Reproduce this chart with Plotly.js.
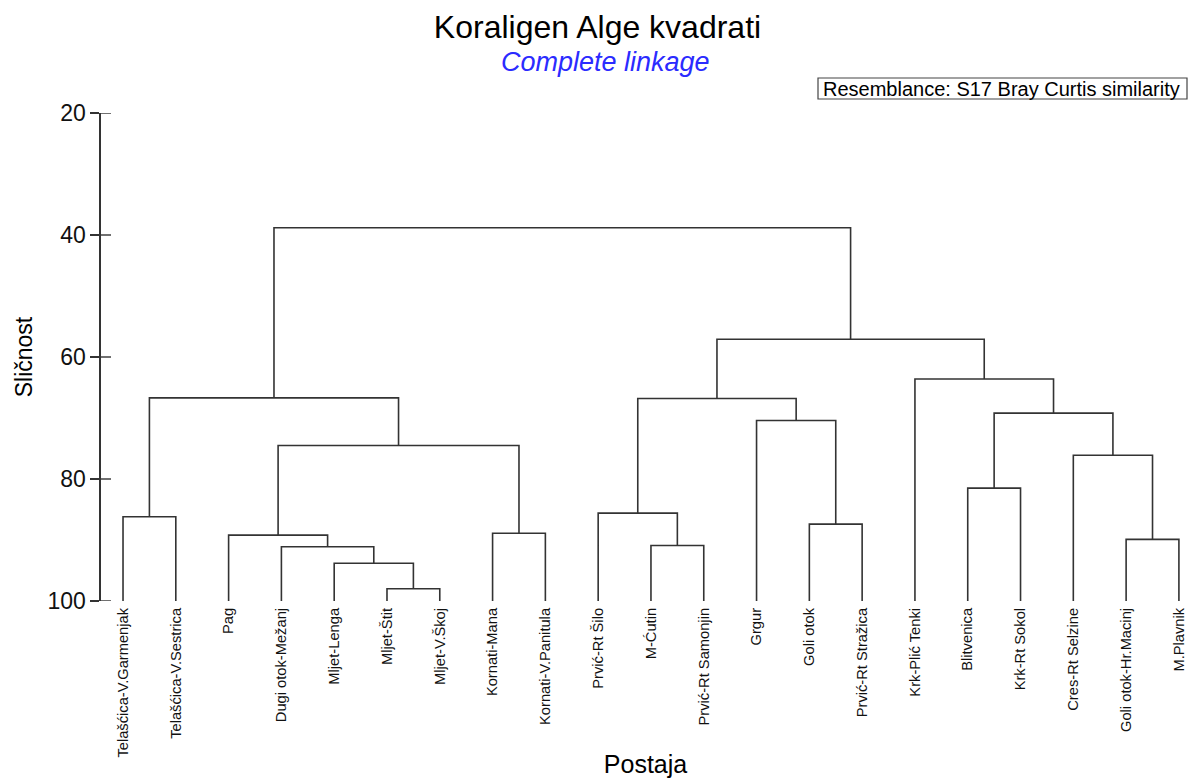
<!DOCTYPE html>
<html>
<head>
<meta charset="utf-8">
<script src="https://cdn.plot.ly/plotly-3.0.1.min.js"></script>
<style>html,body{margin:0;padding:0;background:#fff;}#chart{width:1195px;height:778px;}</style>
</head>
<body>
<div id="chart"></div>
<script>
// Leaves in dendrogram order
const leaves = [
  "Telašćica-V.Garmenjak", "Telašćica-V.Sestrica", "Pag", "Dugi otok-Mežanj",
  "Mljet-Lenga", "Mljet-Štit", "Mljet-V.Škoj", "Kornati-Mana", "Kornati-V.Panitula",
  "Prvić-Rt Šilo", "M-Ćutin", "Prvić-Rt Samonjin", "Grgur", "Goli otok",
  "Prvić-Rt Stražica", "Krk-Plić Tenki", "Blitvenica", "Krk-Rt Sokol",
  "Cres-Rt Selzine", "Goli otok-Hr.Macinj", "M.Plavnik"
];
// Linkage: merged node ids (leaves 0..20, clusters 21+), similarity level
const mergeLeft  = [5, 4, 3, 10, 19, 2, 7, 13, 0, 9, 16, 18, 26, 12, 31, 29, 30, 15, 37, 36];
const mergeRight = [6, 21, 22, 11, 20, 23, 8, 14, 1, 24, 17, 25, 27, 28, 32, 33, 34, 35, 38, 39];
const mergeSim   = [98.0, 93.8, 91.1, 90.9, 89.9, 89.2, 88.9, 87.4, 86.2, 85.6, 81.5, 76.1, 74.5, 70.4, 69.2, 66.7, 66.8, 63.6, 57.1, 38.8];
const yTicks = [20, 40, 60, 80, 100];
const leafLevel = 100;

const n = leaves.length;
const nodeX = [], nodeY = [];
for (let i = 0; i < n; i++) { nodeX.push(i + 1); nodeY.push(leafLevel); }
const xs = [], ys = [];
for (let k = 0; k < mergeSim.length; k++) {
  const a = mergeLeft[k], b = mergeRight[k], h = mergeSim[k];
  xs.push(nodeX[a], nodeX[a], nodeX[b], nodeX[b], null);
  ys.push(nodeY[a], h, h, nodeY[b], null);
  nodeX.push((nodeX[a] + nodeX[b]) / 2);
  nodeY.push(h);
}

const font = "Liberation Sans, Arial, sans-serif";
const trace = {
  x: xs, y: ys, type: "scatter", mode: "lines",
  line: {color: "#333333", width: 1.6},
  hoverinfo: "skip", showlegend: false, connectgaps: false
};

// plot area: x 101..1190, y 113..601
const PW = 1089, PH = 488, PL = 101, PT = 113;
const px = (v) => (v - PL) / PW;
const py = (v) => 1 + (PT - v) / PH;

// short inner part of each y tick (ticks cross the axis line)
const tickShapes = yTicks.map(t => ({
  type: "line", xref: "paper", yref: "y",
  x0: 0, x1: px(111), y0: t, y1: t,
  line: {color: "#333", width: 1.4}
}));

const layout = {
  width: 1195, height: 778,
  margin: {l: PL, r: 5, t: PT, b: 177},
  paper_bgcolor: "#ffffff", plot_bgcolor: "#ffffff",
  font: {family: font, color: "#111"},
  title: {
    text: "Koraligen Alge kvadrati",
    font: {family: font, size: 32, color: "#000"},
    x: 0.5, xref: "container", xanchor: "center",
    y: 1 - 27 / 778, yref: "container", yanchor: "middle"
  },
  xaxis: {
    range: [0.583, 21.21],
    tickmode: "array",
    tickvals: leaves.map((_, i) => i + 1),
    ticktext: leaves,
    tickangle: -90,
    tickfont: {family: font, size: 14.7, color: "#111"},
    ticks: "", ticklabelstandoff: 3,
    showline: false, showgrid: false, zeroline: false,
    title: {text: "Postaja", font: {family: font, size: 25, color: "#000"}, standoff: 4},
    fixedrange: true
  },
  yaxis: {
    range: [100, 20],
    tickmode: "array", tickvals: yTicks, ticktext: yTicks.map(String),
    ticks: "outside", ticklen: 9, tickwidth: 1.4, tickcolor: "#333",
    tickfont: {family: font, size: 23, color: "#111"},
    showline: true, linecolor: "#333", linewidth: 1.6,
    showgrid: false, zeroline: false,
    title: {text: "Sličnost", font: {family: font, size: 23, color: "#000"}, standoff: 8},
    fixedrange: true
  },
  shapes: [
    {type: "rect", xref: "paper", yref: "paper",
     x0: px(818), x1: px(1187), y0: py(99), y1: py(78),
     line: {color: "#444", width: 1.2}, fillcolor: "rgba(0,0,0,0)"}
  ].concat(tickShapes),
  annotations: [
    {
      text: "<i>Complete linkage</i>", xref: "paper", yref: "paper",
      x: px(605.5), y: py(62), xanchor: "center", yanchor: "middle",
      showarrow: false, font: {family: font, size: 27, color: "#2b2bff"}
    },
    {
      text: "Resemblance: S17 Bray Curtis similarity", xref: "paper", yref: "paper",
      x: px(822), y: py(88.5), xanchor: "left", yanchor: "middle",
      showarrow: false, font: {family: font, size: 20, color: "#000"}, borderpad: 0
    }
  ]
};

Plotly.newPlot("chart", [trace], layout, {displayModeBar: false, staticPlot: true});
</script>
</body>
</html>
